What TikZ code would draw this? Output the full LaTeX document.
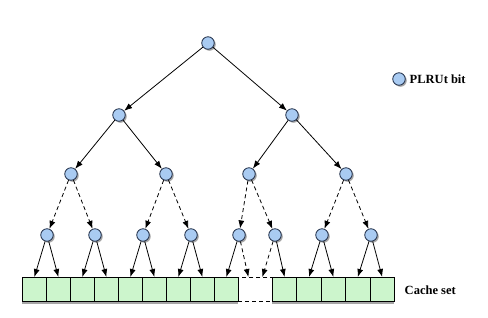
\documentclass[tikz,border=0pt]{standalone}
\usepackage{fontspec}
\setmainfont{Liberation Serif}
\usetikzlibrary{arrows.meta, shadows}
\definecolor{bitblue}{HTML}{A9CBF2}
\definecolor{bitline}{HTML}{22304A}
\definecolor{setgreen}{HTML}{CCF5CC}

\begin{document}
\begin{tikzpicture}[x=1pt, y=-1pt, >={Latex[length=8pt,width=6pt]}, line width=0.8pt,
    bit/.style={circle, draw=bitline, fill=bitblue, minimum size=12.5pt, inner sep=0pt,
      drop shadow={shadow xshift=1.5pt, shadow yshift=-1.5pt, fill=gray!70, opacity=1}},
    way/.style={draw, fill=setgreen, minimum width=24pt, minimum height=24pt, inner sep=0pt,
      anchor=north west, drop shadow={shadow xshift=0pt, shadow yshift=-2.5pt, fill=gray!70, opacity=1}},
    guess/.style={->, dashed, dash pattern=on 4pt off 3pt},
    label/.style={font=\fontsize{12.5}{14}\selectfont\bfseries, anchor=west}]
  \useasboundingbox (0,0) rectangle (488,317);

  % --- tree of PLRU bits ---
  \node[bit] (r) at (208,43) {};
  \node[bit] (a) at (119,115) {};
  \node[bit] (b) at (292,115) {};
  \node[bit] (aa) at (71,174) {};
  \node[bit] (ab) at (166,174) {};
  \node[bit] (ba) at (249,174) {};
  \node[bit] (bb) at (346,174) {};
  \node[bit] (l1) at (47,235) {};
  \node[bit] (l2) at (95,235) {};
  \node[bit] (l3) at (143,235) {};
  \node[bit] (l4) at (191,235) {};
  \node[bit] (l5) at (239,235) {};
  \node[bit] (l6) at (275,235) {};
  \node[bit] (l7) at (322,235) {};
  \node[bit] (l8) at (371,235) {};

  \draw[->] (r) -- (a);
  \draw[->] (r) -- (b);
  \draw[->] (a) -- (aa);
  \draw[->] (a) -- (ab);
  \draw[->] (b) -- (ba);
  \draw[->] (b) -- (bb);
  \draw[guess] (aa) -- (l1);
  \draw[guess] (aa) -- (l2);
  \draw[guess] (ab) -- (l3);
  \draw[guess] (ab) -- (l4);
  \draw[guess] (ba) -- (l5);
  \draw[guess] (ba) -- (l6);
  \draw[guess] (bb) -- (l7);
  \draw[guess] (bb) -- (l8);

  % --- cache set ---
  \node[draw, dashed, dash pattern=on 4pt off 3pt, fill=white, minimum width=34pt,
    minimum height=24pt, inner sep=0pt, anchor=north west] (gap) at (238,277) {};
  \foreach \i in {1,...,9}
    \node[way] (c\i) at ({22+24*(\i-1)},277) {};
  \foreach \i in {10,...,14}
    \node[way, minimum width=24.4pt] (c\i) at ({272+24.4*(\i-10)},277) {};

  \draw[->] (l1) -- (c1.north);
  \draw[->] (l1) -- (c2.north);
  \draw[->] (l2) -- (c3.north);
  \draw[->] (l2) -- (c4.north);
  \draw[->] (l3) -- (c5.north);
  \draw[->] (l3) -- (c6.north);
  \draw[->] (l4) -- (c7.north);
  \draw[->] (l4) -- (c8.north);
  \draw[->] (l5) -- (c9.north);
  \draw[guess] (l5) -- ([xshift=-7pt]gap.north);
  \draw[guess] (l6) -- ([xshift=7pt]gap.north);
  \draw[->] (l6) -- (c10.north);
  \draw[->] (l7) -- (c11.north);
  \draw[->] (l7) -- (c12.north);
  \draw[->] (l8) -- (c13.north);
  \draw[->] (l8) -- (c14.north);

  \node[label] (setname) at (401,290) {Cache set};

  % --- legend ---
  \node[bit] (key) at (399,79) {};
  \node[label] (keyname) at (406,79) {PLRUt bit};
\end{tikzpicture}
\end{document}
